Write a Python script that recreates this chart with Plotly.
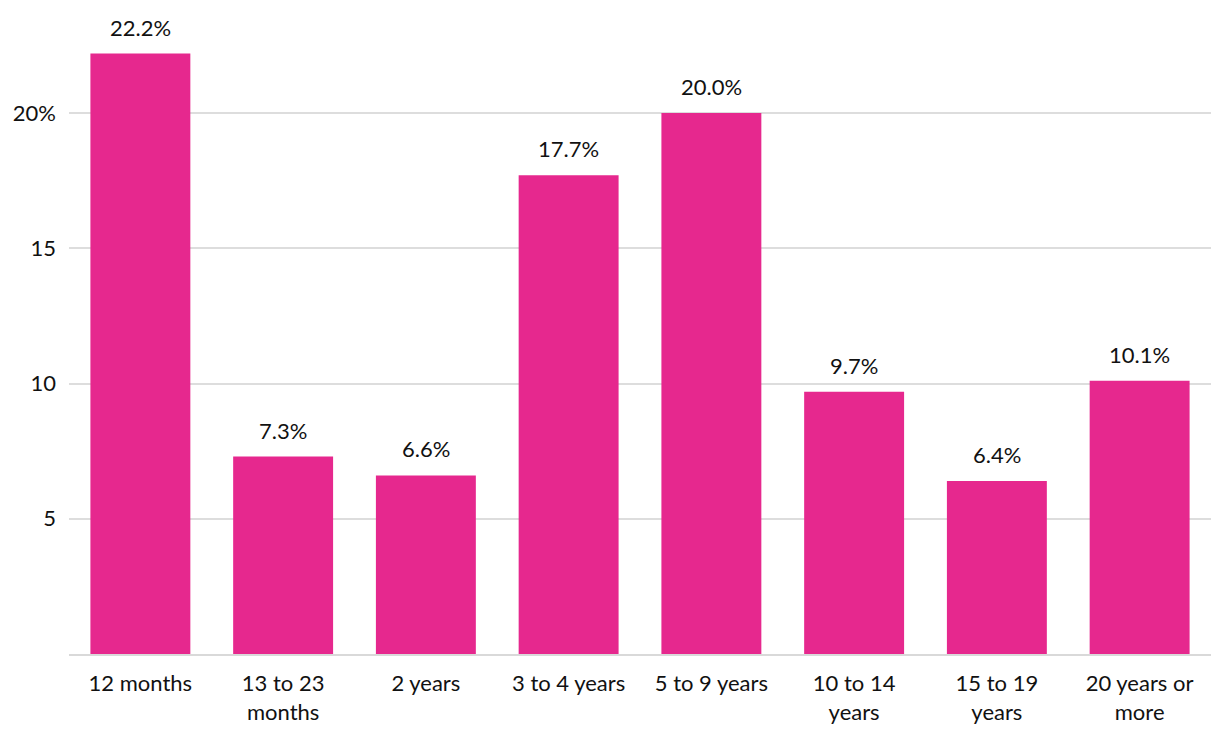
import plotly.graph_objects as go

categories = ["12 months", "13 to 23<br>months", "2 years", "3 to 4 years", "5 to 9 years",
              "10 to 14<br>years", "15 to 19<br>years", "20 years or<br>more"]
values = [22.2, 7.3, 6.6, 17.7, 20.0, 9.7, 6.4, 10.1]
labels = [f"{v:.1f}%" for v in values]
tick_vals = [5, 10, 15, 20]
tick_text = ["5", "10", "15", "20%"]

FONT = "Lato, 'Source Sans Pro', 'Noto Sans', sans-serif"

fig = go.Figure(go.Bar(
    x=categories, y=values,
    marker=dict(color="#E6288E", line=dict(width=0)),
    hoverinfo="x+y",
))

for c, v, t in zip(categories, values, labels):
    fig.add_annotation(x=c, y=v, text=t, showarrow=False, yanchor="bottom",
                       yshift=11, font=dict(size=22, color="#111", family=FONT))

fig.update_layout(
    width=1220, height=750,
    margin=dict(l=69, r=9, t=20, b=96),
    plot_bgcolor="white", paper_bgcolor="white",
    bargap=0.3, showlegend=False,
    font=dict(family=FONT, size=22, color="#111"),
)
fig.update_xaxes(showline=True, linecolor="#d9d9d9", linewidth=2, ticks="",
                 ticklabelstandoff=9,
                 tickfont=dict(size=22, color="#111"), automargin=False)
fig.update_yaxes(range=[0, 23.44], tickvals=tick_vals, ticktext=tick_text,
                 showgrid=True, gridcolor="#dddddd", gridwidth=1.5, zeroline=False,
                 ticks="", ticklabelstandoff=12, tickfont=dict(size=22, color="#111"),
                 automargin=False)

fig.write_html("out.html", config={"displayModeBar": False},
               post_script="document.body.style.margin='0';document.body.style.padding='0';window.dispatchEvent(new Event('resize'));")
